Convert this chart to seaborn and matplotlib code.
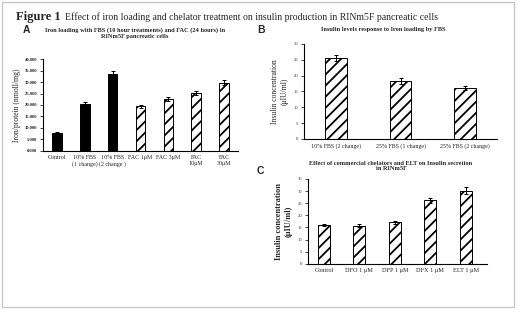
import numpy as np
import matplotlib
matplotlib.use("Agg")
import matplotlib.pyplot as plt
import seaborn as sns
from matplotlib.patches import Rectangle

# panel A: iron loading
a_labels = ["Control", "10% FBS\n(1 change)", "10% FBS\n(2 change )", "FAC 1μM",
            "FAC 3μM", "FAC\n10μM", "FAC\n30μM"]
a_values = [7.8, 20.3, 33.6, 19.4, 22.7, 25.4, 29.8]
a_err = [0.5, 1.0, 1.4, 0.6, 0.8, 0.9, 1.0]
a_ticks = [0, 5, 10, 15, 20, 25, 30, 35, 40]

# panel B: insulin vs FBS
b_labels = ["10% FBS (2 change)", "25% FBS (1 change)", "25% FBS (2 change)"]
b_values = [25.6, 18.3, 16.0]
b_err = [1.0, 0.8, 0.6]
b_ticks = [0, 5, 10, 15, 20, 25, 30]

# panel C: chelators
c_labels = ["Control", "DFO 1 μM", "DFP 1 μM", "DFX 1 μM", "ELT 1 μM"]
c_values = [16.0, 15.6, 17.1, 26.2, 30.2]
c_err = [0.6, 0.6, 0.5, 1.0, 1.3]
c_ticks = [0, 5, 10, 15, 20, 25, 30, 35]

sns.set_style("white")
plt.rcParams["font.family"] = ["Liberation Serif", "DejaVu Serif"]
plt.rcParams["hatch.linewidth"] = 1.3

W, H = 520, 312
fig = plt.figure(figsize=(5.2, 3.12), dpi=100)


def px_axes(left, top, right, bottom):
    return fig.add_axes([left / W, 1 - bottom / H, (right - left) / W, (bottom - top) / H])


def draw_panel(ax, labels, values, err, ticks, solid_n, ylim, xlim, width, tick_fs, xfs):
    sns.barplot(x=labels, y=values, ax=ax, color="white", edgecolor="black",
                linewidth=0.7, width=width, errorbar=None)
    for i, bar in enumerate(ax.patches):
        if i < solid_n:
            bar.set_facecolor("black")
        else:
            bar.set_facecolor("white")
            bar.set_hatch("///")
    ax.errorbar(np.arange(len(values)), values, yerr=err, fmt="none",
                ecolor="black", elinewidth=0.7, capsize=1.5, capthick=0.7)
    ax.set_ylim(*ylim)
    ax.set_xlim(*xlim)
    ax.set_yticks(ticks)
    ax.set_xlabel("")
    sns.despine(ax=ax)
    for s in ["left", "bottom"]:
        ax.spines[s].set_color("black")
        ax.spines[s].set_linewidth(0.8)
    ax.tick_params(axis="y", length=2, width=0.6, labelsize=tick_fs, pad=2, left=True)
    ax.tick_params(axis="x", length=0, labelsize=xfs, pad=3)


# panel A
axA = px_axes(43, 59.3, 238, 150.7)
draw_panel(axA, a_labels, a_values, a_err, a_ticks, 3, (0, 40), (-0.5, 6.5), 0.34, 3.3, 4.3)
axA.set_yticklabels([f"{t:.3f}" for t in a_ticks], fontweight="bold")
axA.set_ylabel("Iron/protein (nmoll/mg)", fontsize=5.5, labelpad=3)

# panel B
axB = px_axes(304, 43.9, 497, 139)
draw_panel(axB, b_labels, b_values, b_err, b_ticks, 0, (0, 30), (-0.5, 2.5), 0.34, 3.3, 4.3)
axB.set_ylabel("Insulin concentration\n(μIU/ml)", fontsize=5.5, labelpad=4)

# panel C
axC = px_axes(308, 179, 487, 263.7)
draw_panel(axC, c_labels, c_values, c_err, c_ticks, 0, (0, 35), (-0.45, 4.6), 0.34, 3.3, 4.5)
axC.set_ylabel("Insulin concentration\n(μIU/ml)", fontsize=6, fontweight="bold", labelpad=4)

# titles
fig.text(16 / W, 1 - 17 / H, "Figure 1", fontsize=9, fontweight="bold", va="center")
fig.text(65 / W, 1 - 17 / H,
         "Effect of iron loading and chelator treatment on insulin production in RINm5F pancreatic cells",
         fontsize=7.0, va="center")

for lx, ly, letter in [(23, 30, "A"), (257, 30, "B"), (257, 171, "C")]:
    fig.text(lx / W, 1 - ly / H, letter, fontsize=7.5, fontweight="bold", va="center",
             family=["Liberation Sans", "DejaVu Sans"])

fig.text(135 / W, 1 - 33 / H,
         "Iron loading with FBS (10 hour treatments) and FAC (24 hours) in\nRINm5F pancreatic cells",
         fontsize=4.6, fontweight="bold", ha="center", va="center", linespacing=1.1)
fig.text(383 / W, 1 - 30 / H, "Insulin levels response to Iron loading by FBS",
         fontsize=4.6, fontweight="bold", ha="center", va="center")
fig.text(391 / W, 1 - 166 / H,
         "Effect of commercial chelators and ELT on Insulin secretion\nin RINm5F",
         fontsize=4.6, fontweight="bold", ha="center", va="center", linespacing=1.1)

# outer frame
fig.patches.append(Rectangle((2 / W, 1 - 307 / H), 512 / W, 305 / H, transform=fig.transFigure,
                             fill=False, edgecolor="#c8c8c8", linewidth=1.0))

fig.savefig("out.png", dpi=100)
